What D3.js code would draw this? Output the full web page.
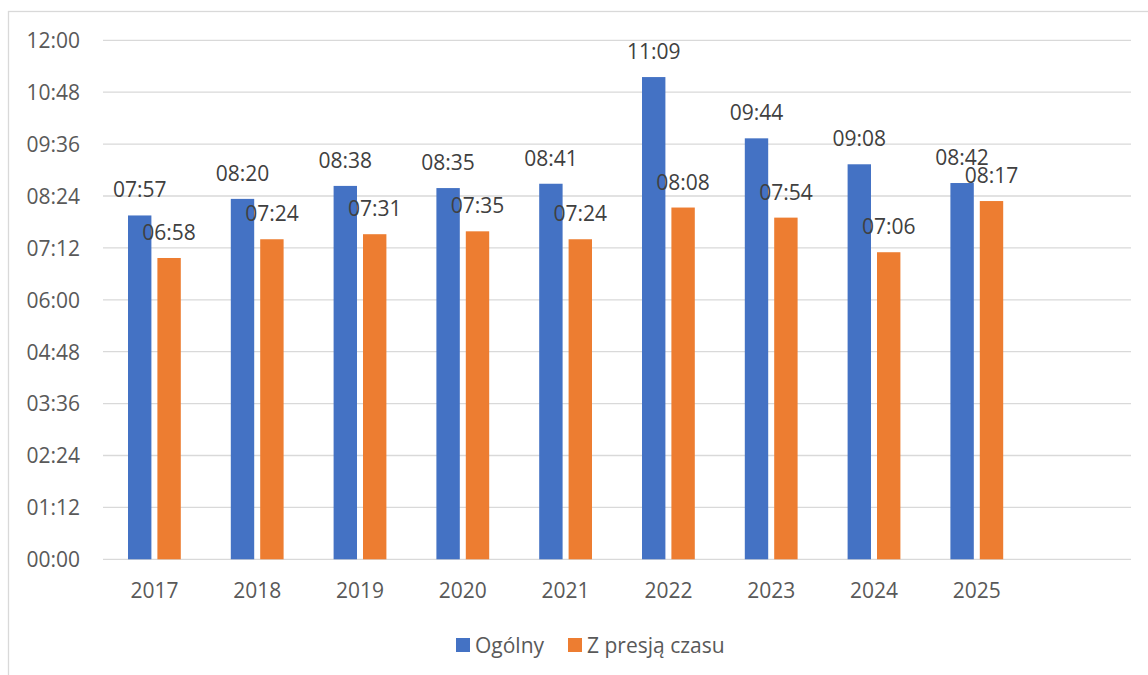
<!DOCTYPE html>
<html>
<head>
<meta charset="utf-8">
<script src="https://cdn.jsdelivr.net/npm/d3@7"></script>
<style>
  html, body { margin: 0; padding: 0; background: #fff; }
  svg { display: block; font-family: "Open Sans", sans-serif; }
</style>
</head>
<body>
<svg id="chart" width="1148" height="675"></svg>
<script>
// dane
const lata = ["2017", "2018", "2019", "2020", "2021", "2022", "2023", "2024", "2025"];
const ogolny = ["07:57", "08:20", "08:38", "08:35", "08:41", "11:09", "09:44", "09:08", "08:42"];
const zPresja = ["06:58", "07:24", "07:31", "07:35", "07:24", "08:08", "07:54", "07:06", "08:17"];
const serie = ["Ogólny", "Z presją czasu"];
const kolory = ["#4472c4", "#ed7d31"];
const osY = ["00:00", "01:12", "02:24", "03:36", "04:48", "06:00", "07:12", "08:24", "09:36", "10:48", "12:00"];

const naMinuty = s => { const [h, m] = s.split(":").map(Number); return h * 60 + m; };
const naTekst = v => String(Math.floor(v / 60)).padStart(2, "0") + ":" + String(v % 60).padStart(2, "0");

const svg = d3.select("#chart");

// ramka wykresu
svg.append("rect")
    .attr("x", 8.5).attr("y", 11.5)
    .attr("width", 1200).attr("height", 700)
    .attr("fill", "none")
    .attr("stroke", "#d9d9d9")
    .attr("stroke-width", 1.3);

const pLewo = 103, pPrawo = 1131, pGora = 40.3, pDol = 559.3;

// ostatnie puste miejsce na osi kategorii
const x = d3.scaleBand().domain([...lata, ""]).range([pLewo, pPrawo]);
const y = d3.scaleLinear().domain([0, 720]).range([pDol, pGora]);

// siatka
svg.append("g")
    .selectAll("line")
    .data(osY.map(naMinuty))
    .join("line")
    .attr("x1", pLewo).attr("x2", pPrawo)
    .attr("y1", d => y(d)).attr("y2", d => y(d))
    .attr("stroke", "#d9d9d9")
    .attr("stroke-width", 1.3);

// oś Y
const gY = svg.append("g")
    .attr("transform", `translate(${pLewo},0)`)
    .call(d3.axisLeft(y).tickValues(osY.map(naMinuty)).tickFormat(naTekst).tickSize(0).tickPadding(23));
gY.select(".domain").remove();
gY.selectAll("text")
    .attr("font-family", "Open Sans, sans-serif")
    .attr("font-size", 21)
    .attr("fill", "#595959")
    .attr("dy", "0.35em");

// oś X
const gX = svg.append("g")
    .attr("transform", `translate(0,${pDol})`)
    .call(d3.axisBottom(x).tickSize(0));
gX.select(".domain").remove();
gX.selectAll("text")
    .attr("font-family", "Open Sans, sans-serif")
    .attr("font-size", 21)
    .attr("fill", "#595959")
    .attr("y", 39)
    .attr("dy", 0);

// słupki
const szer = 23.4, odstep = 6;
const dane = [ogolny, zPresja];
dane.forEach((seria, i) => {
    const przes = i === 0 ? -(odstep / 2 + szer) : odstep / 2;
    const g = svg.append("g");
    g.selectAll("rect")
        .data(seria)
        .join("rect")
        .attr("x", (d, j) => x(lata[j]) + x.bandwidth() / 2 + przes)
        .attr("y", d => y(naMinuty(d)))
        .attr("width", szer)
        .attr("height", d => pDol - y(naMinuty(d)))
        .attr("fill", kolory[i]);
    g.selectAll("text")
        .data(seria)
        .join("text")
        .attr("x", (d, j) => x(lata[j]) + x.bandwidth() / 2 + przes + szer / 2)
        .attr("y", d => y(naMinuty(d)) - 18)
        .attr("text-anchor", "middle")
        .attr("font-size", 21)
        .attr("fill", "#404040")
        .text(d => d);
});

// legenda
const leg = svg.append("g");
const legX = [456, 568];
serie.forEach((s, i) => {
    leg.append("rect")
        .attr("x", legX[i]).attr("y", 638)
        .attr("width", 14).attr("height", 14)
        .attr("fill", kolory[i]);
    leg.append("text")
        .attr("x", legX[i] + 19).attr("y", 652.5)
        .attr("font-size", 21)
        .attr("fill", "#595959")
        .text(s);
});
</script>
</body>
</html>
